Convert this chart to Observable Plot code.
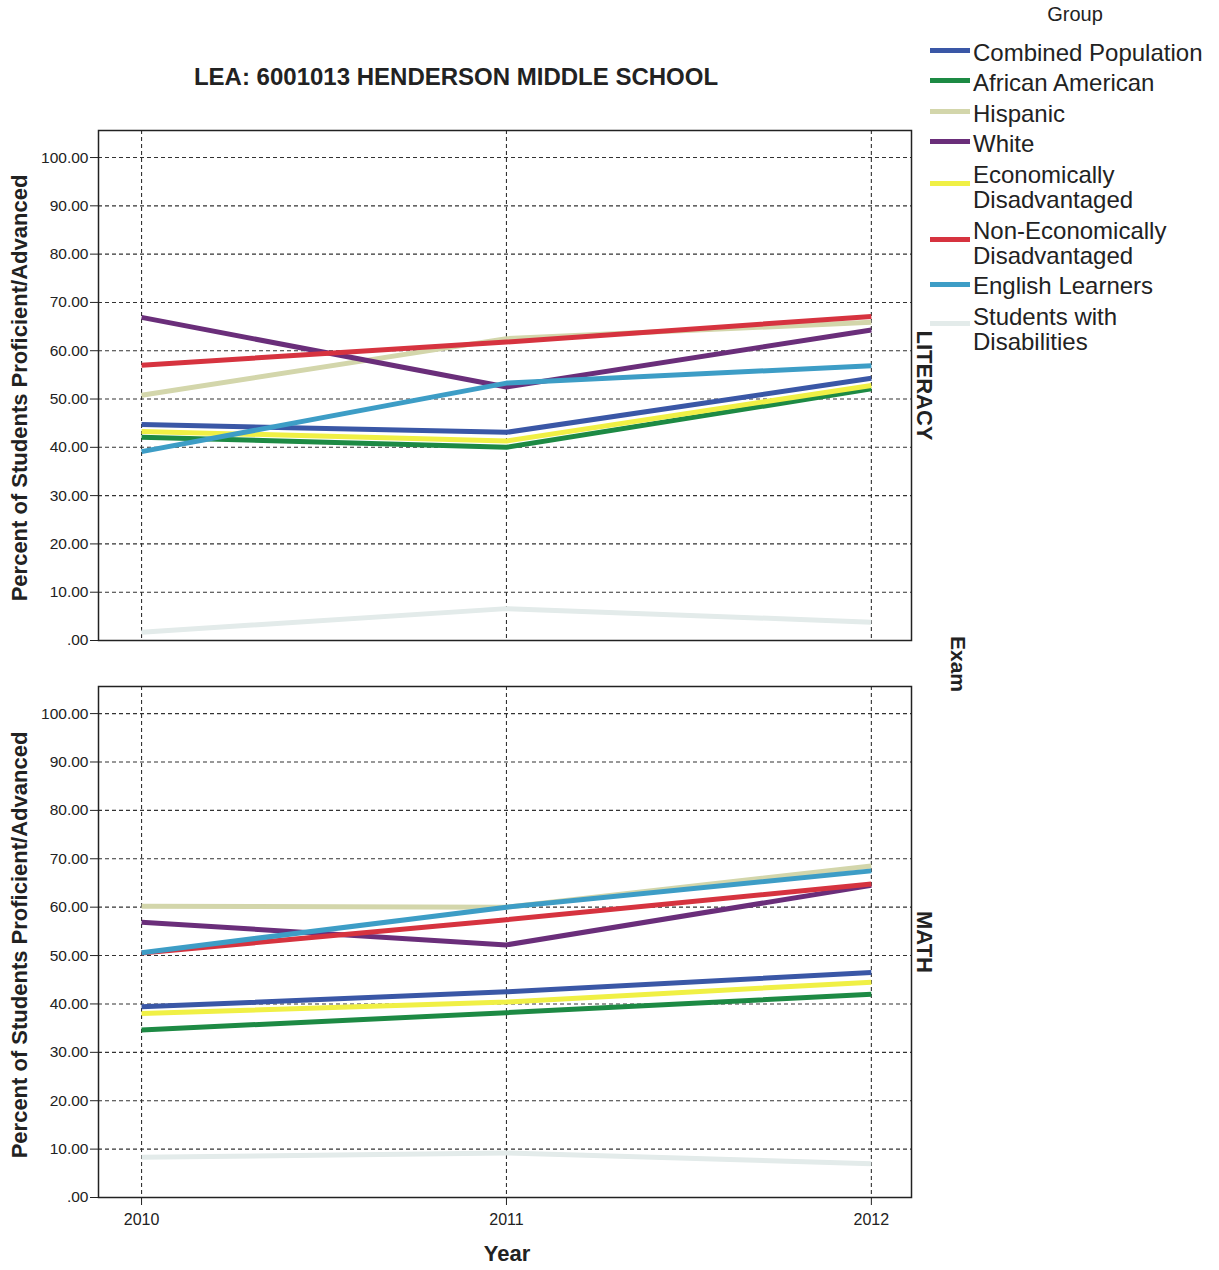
<!DOCTYPE html>
<html>
<head>
<meta charset="utf-8">
<script src="https://cdn.jsdelivr.net/npm/d3@7"></script>
<script src="https://cdn.jsdelivr.net/npm/@observablehq/plot@0.6"></script>
<style>
  html, body { margin: 0; padding: 0; background: #fff; }
  #root { position: relative; width: 1219px; height: 1270px; font-family: Arial, "Liberation Sans", sans-serif; color: #222; overflow: hidden; }
  .abs { position: absolute; white-space: nowrap; }
  .rot { transform: translate(-50%, -50%) rotate(-90deg); }
  .rotc { transform: translate(-50%, -50%) rotate(90deg); }
  .ctr { transform: translate(-50%, -50%); }
  .sw { position: absolute; width: 40px; height: 5px; }
  .lg { position: absolute; font-size: 24px; line-height: 25px; color: #222; white-space: nowrap; }
</style>
</head>
<body>
<div id="root"></div>
<script>
const years = [2010, 2011, 2012];
const groups = ["Combined Population", "African American", "Hispanic", "White",
  "Economically Disadvantaged", "Non-Economically Disadvantaged", "English Learners", "Students with Disabilities"];
const groupColors = ["#3a57a6", "#1d8a44", "#d3d6ab", "#6a2e7a", "#f0f045", "#d6333f", "#3d9dc6", "#e3ebea"];
const yTicks = [0, 10, 20, 30, 40, 50, 60, 70, 80, 90, 100];

// values per group: [2010, 2011, 2012]
const literacyValues = [
  [44.7, 43.1, 54.3],
  [42.1, 40.0, 52.1],
  [50.8, 62.5, 65.9],
  [66.9, 52.5, 64.3],
  [43.3, 41.3, 52.8],
  [57.0, 61.8, 67.1],
  [39.1, 53.3, 56.9],
  [1.7, 6.6, 3.8]
];
const mathValues = [
  [39.4, 42.5, 46.5],
  [34.6, 38.2, 42.0],
  [60.2, 60.0, 68.5],
  [56.9, 52.2, 64.5],
  [38.0, 40.4, 44.5],
  [50.5, 57.4, 64.8],
  [50.6, 60.0, 67.5],
  [8.3, 9.2, 7.0]
];

function toRows(values) {
  const rows = [];
  groups.forEach((g, i) => years.forEach((yr, j) => rows.push({group: g, year: yr, value: values[i][j]})));
  return rows;
}

function panel(values, label, showX) {
  const h = showX ? 600 : 560;
  return Plot.plot({
    width: 960,
    height: h,
    marginLeft: 98,
    marginRight: 49,
    marginTop: 30,
    marginBottom: showX ? 59 : 20,
    x: {domain: [2009.882, 2012.11], axis: null},
    y: {domain: [0, 105.6], axis: null},
    color: {domain: groups, range: groupColors},
    style: {background: "transparent", fontFamily: "Arial, 'Liberation Sans', sans-serif", color: "#222"},
    marks: [
      Plot.gridY(yTicks.filter(d => d > 0), {stroke: "#333", strokeOpacity: 1, strokeWidth: 1.1, strokeDasharray: "4,3"}),
      Plot.gridX(years, {stroke: "#333", strokeOpacity: 1, strokeWidth: 1.1, strokeDasharray: "4,3"}),
      Plot.line(toRows(values), {x: "year", y: "value", z: "group", stroke: "group", strokeWidth: 5, strokeLinejoin: "round", strokeLinecap: "butt"}),
      Plot.frame({stroke: "#222", strokeWidth: 1.5}),
      Plot.axisY(yTicks, {tickSize: 8, tickPadding: 2, fontSize: 15.5, label: null,
        tickFormat: d => d === 0 ? ".00" : d.toFixed(2)}),
      showX ? Plot.axisX(years, {tickSize: 8, tickPadding: 8, fontSize: 16, label: null, tickFormat: d => String(d)}) : null,
      Plot.text([label], {frameAnchor: "right", dx: 13, rotate: 90, textAnchor: "middle", fontWeight: "bold", fontSize: 22, fill: "#222"})
    ]
  });
}

const root = document.getElementById("root");

function addDiv(text, cls, style) {
  const d = document.createElement("div");
  d.className = "abs " + cls;
  d.textContent = text;
  Object.assign(d.style, style);
  root.appendChild(d);
  return d;
}

// title
addDiv("LEA: 6001013 HENDERSON MIDDLE SCHOOL", "ctr", {left: "456px", top: "77px", fontSize: "24px", fontWeight: "bold"});

// plots
const top1 = panel(literacyValues, "LITERACY", false);
top1.style.position = "absolute"; top1.style.left = "0px"; top1.style.top = "100px";
root.appendChild(top1);
const bot = panel(mathValues, "MATH", true);
bot.style.position = "absolute"; bot.style.left = "0px"; bot.style.top = "656px";
root.appendChild(bot);

// axis titles
const yLab = "Percent of Students Proficient/Advanced";
addDiv(yLab, "rot", {left: "20px", top: "388px", fontSize: "22px", fontWeight: "bold"});
addDiv(yLab, "rot", {left: "20px", top: "945px", fontSize: "22px", fontWeight: "bold"});
addDiv("Year", "ctr", {left: "507px", top: "1254px", fontSize: "22px", fontWeight: "bold"});
addDiv("Exam", "rotc", {left: "958px", top: "664px", fontSize: "21px", fontWeight: "bold"});

// legend
addDiv("Group", "ctr", {left: "1075px", top: "14px", fontSize: "20px"});
const legendLayout = [
  {lines: ["Combined Population"], top: 40, sw: 50},
  {lines: ["African American"], top: 70, sw: 80},
  {lines: ["Hispanic"], top: 101, sw: 111},
  {lines: ["White"], top: 131, sw: 141},
  {lines: ["Economically", "Disadvantaged"], top: 162, sw: 183},
  {lines: ["Non-Economically", "Disadvantaged"], top: 218, sw: 239},
  {lines: ["English Learners"], top: 273, sw: 284},
  {lines: ["Students with", "Disabilities"], top: 304, sw: 323}
];
legendLayout.forEach((item, i) => {
  const s = document.createElement("div");
  s.className = "sw";
  Object.assign(s.style, {left: "930px", top: (item.sw - 2) + "px", background: groupColors[i]});
  root.appendChild(s);
  const t = document.createElement("div");
  t.className = "lg";
  t.innerHTML = item.lines.join("<br>");
  Object.assign(t.style, {left: "973px", top: item.top + "px"});
  root.appendChild(t);
});
</script>
</body>
</html>
